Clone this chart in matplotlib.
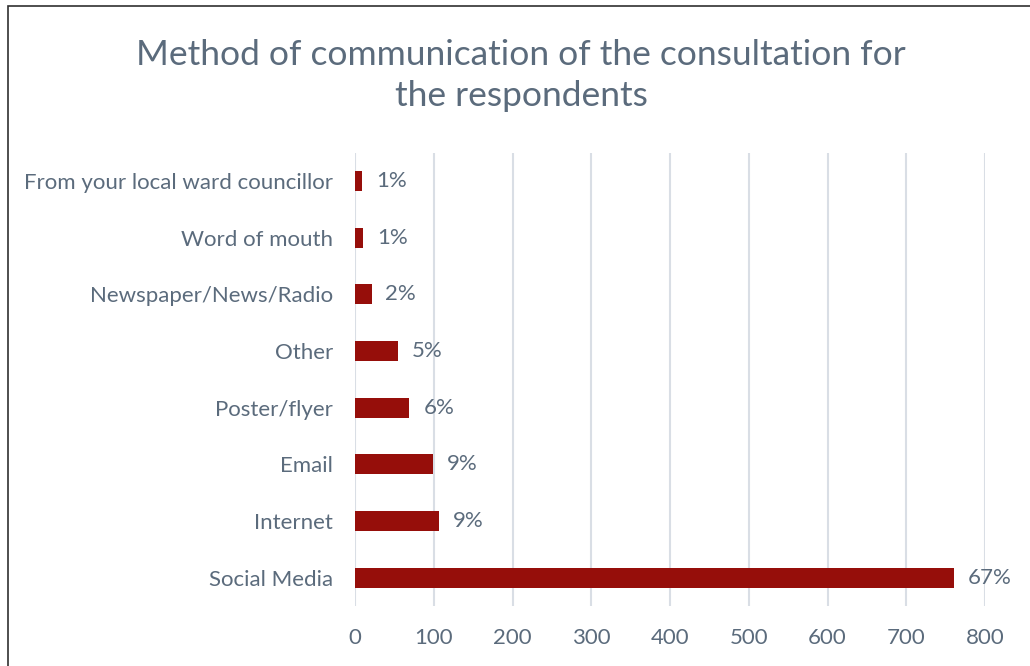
import matplotlib.pyplot as plt
from matplotlib.patches import Rectangle

# response counts per communication channel (bottom to top)
channels = ["Social Media", "Internet", "Email", "Poster/flyer", "Other",
            "Newspaper/News/Radio", "Word of mouth", "From your local ward councillor"]
counts = [761, 106, 99, 69, 54, 21, 10, 9]

bar_color = "#960E0A"
text_color = "#5B6B7C"
grid_color = "#D9DEE5"

plt.rcParams["font.family"] = ["Lato", "DejaVu Sans"]

fig = plt.figure(figsize=(10.30, 6.66), dpi=100)
ax = fig.add_axes([0.3447, 0.0901, 0.6116, 0.6806])

ypos = range(len(channels))
ax.barh(ypos, counts, height=0.35, color=bar_color, zorder=3)

# percentage labels from the counts
total = sum(counts)
for y, c in zip(ypos, counts):
    ax.annotate(f"{round(c / total * 100)}%", (c, y), xytext=(10, 0),
                textcoords="offset points", va="center", ha="left",
                fontsize=16, color=text_color)

ax.set_xlim(0, 800)
ax.set_ylim(-0.5, len(channels) - 0.5)
ax.set_xticks(range(0, 801, 100))
ax.set_yticks(list(ypos))
ax.set_yticklabels(channels)
ax.tick_params(axis="both", length=0, labelsize=16, labelcolor=text_color)
ax.tick_params(axis="y", pad=16)
ax.tick_params(axis="x", pad=16)
ax.grid(axis="x", color=grid_color, linewidth=1.5, zorder=0)
for s in ax.spines.values():
    s.set_visible(False)

fig.text(0.506, 0.887, "Method of communication of the consultation for\nthe respondents",
         ha="center", va="center", fontsize=25.5, color=text_color, linespacing=1.35)

# chart frame
fig.patches.append(Rectangle((8 / 1030, -0.05), 1.1, 1 - 6 / 666 + 0.05,
                             transform=fig.transFigure, fill=False,
                             edgecolor="#303030", linewidth=1.2))

fig.savefig("out.png", dpi=100)
